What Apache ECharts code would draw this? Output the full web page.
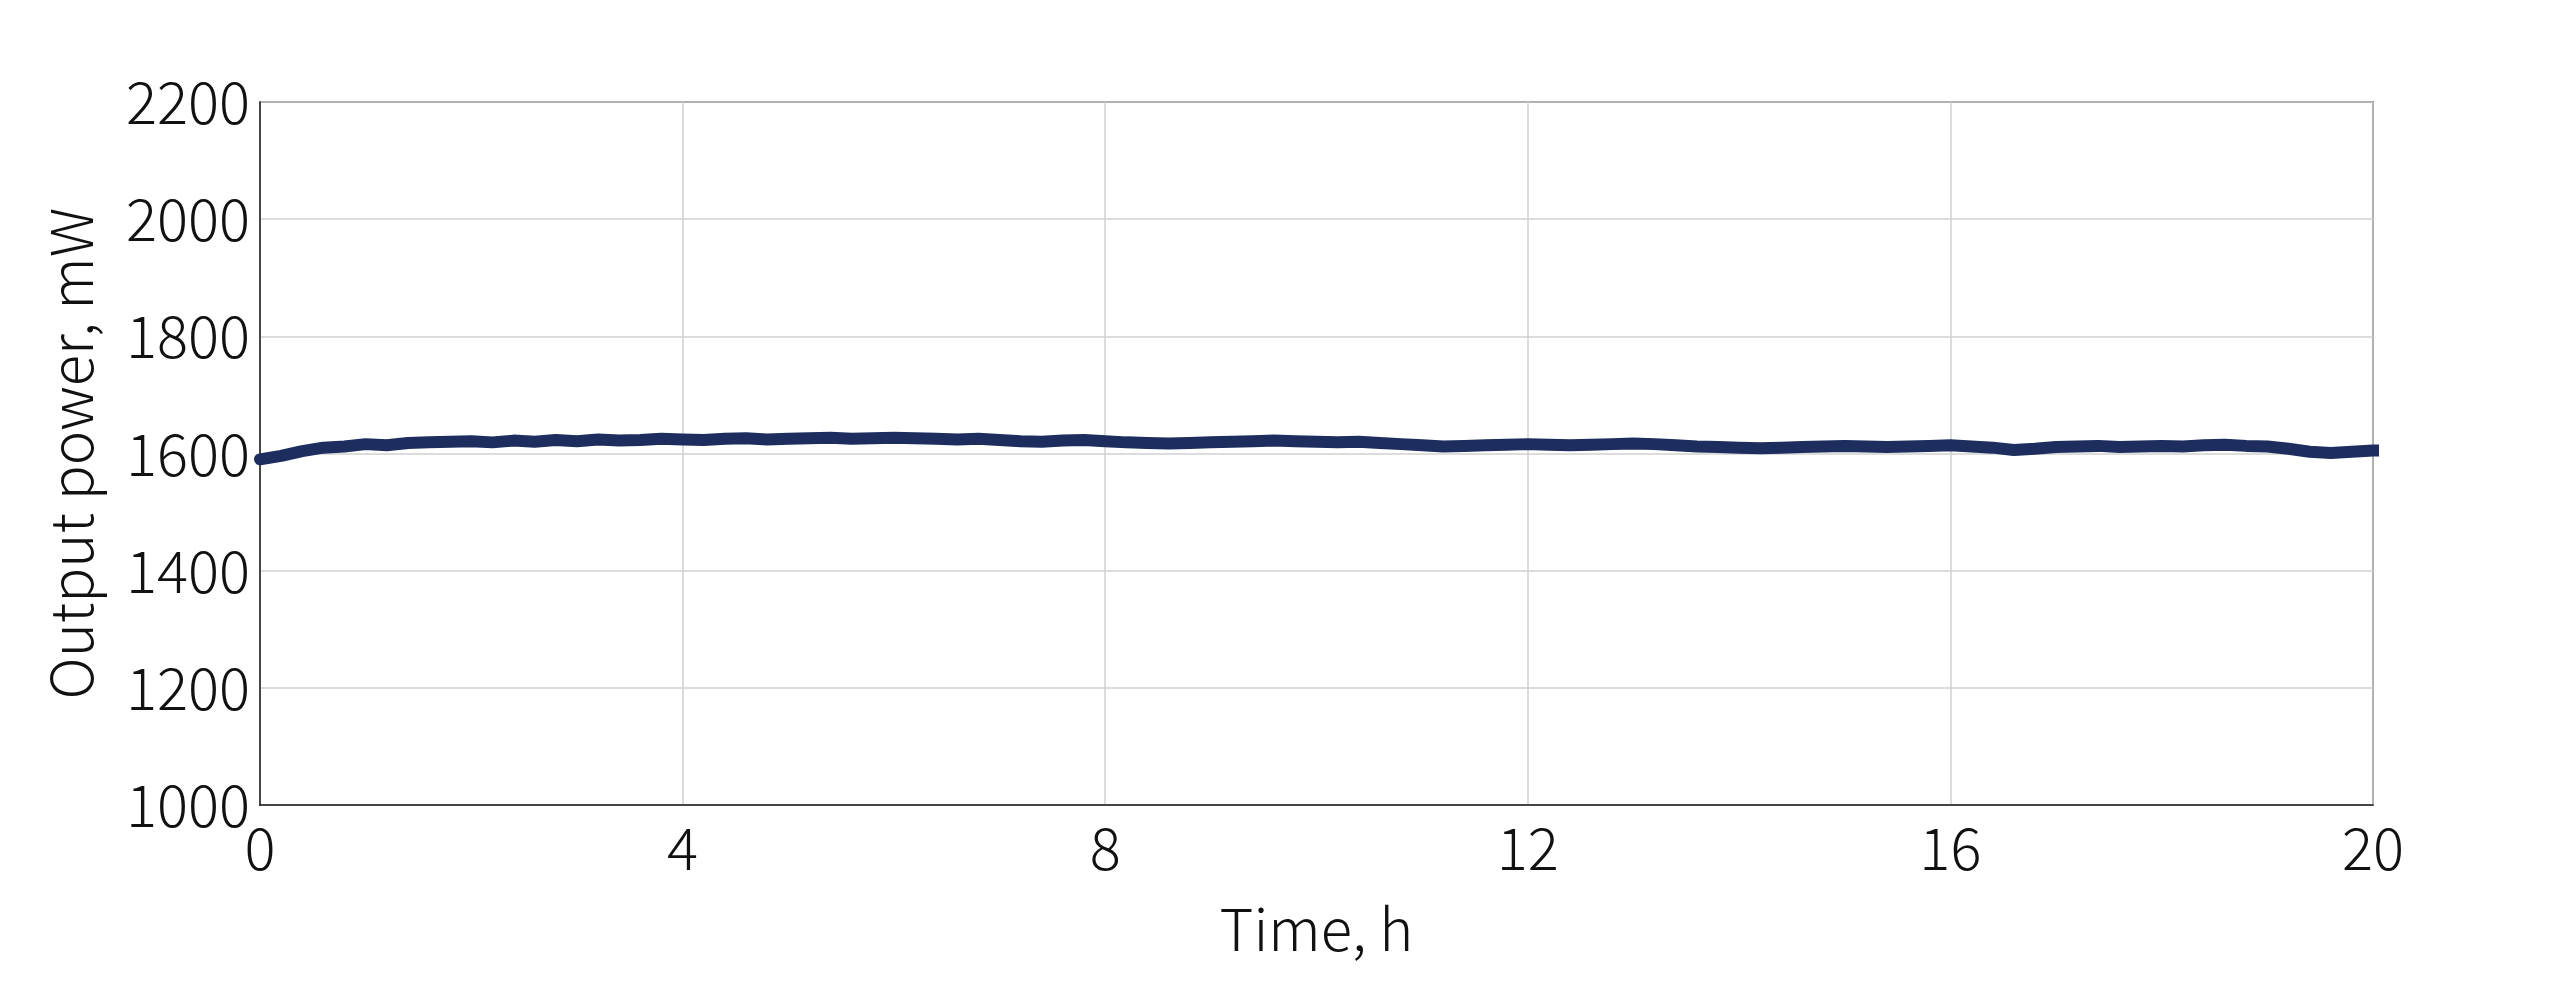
<!DOCTYPE html>
<html><head><meta charset="utf-8">
<script src="https://cdn.jsdelivr.net/npm/echarts@6/dist/echarts.min.js"></script>
<style>html,body{margin:0;padding:0;background:#fff}#c{width:2550px;height:990px}</style>
</head><body><div id="c"></div>
<script>
const timeStep = 0.2;
const powerValues = [
1590,1596,1604,1610,1612,1616,1614,1618,1619,1620,
1621,1619,1622,1620,1623,1621,1624,1622,1623,1625,
1624,1623,1625,1626,1624,1625,1626,1627,1625,1626,
1627,1626,1625,1624,1625,1623,1621,1620,1622,1623,
1621,1619,1618,1617,1618,1619,1620,1621,1622,1621,
1620,1619,1620,1618,1616,1614,1612,1613,1614,1615,
1616,1615,1614,1615,1616,1617,1616,1614,1612,1611,
1610,1609,1610,1611,1612,1613,1612,1611,1612,1613,
1614,1612,1610,1606,1608,1611,1612,1613,1611,1612,
1613,1612,1614,1615,1613,1612,1608,1603,1601,1603
];
const moreValues = [
1605,1606,1608,1607,1609,1608,1605,1606,1608,1610,
1609,1607,1602,1601,1603,1606,1608,1609,1607,1605,
1604,1605,1606,1607,1606,1605,1604,1600,1599,1601,
1603,1603,1602,1603,1604,1603,1604,1605,1603,1601,
1600,1601,1602,1603,1601,1599,1598,1600,1602,1603,
1605,1604,1605,1606,1605,1606,1607,1605,1602,1603,
1604
];
const xTicks = [0,4,8,12,16,20];
const yMin = 1000, yMax = 2200, yStep = 200;
const allValues = powerValues.concat(moreValues);
const data = allValues.map((v,i)=>[+(i*timeStep).toFixed(2), v]);
const font = '"Noto Sans CJK JP", "Noto Sans", sans-serif';
const chart = echarts.init(document.getElementById('c'));
chart.setOption({
  animation:false,
  grid:{left:260,right:177,top:102,bottom:185,show:true,borderColor:'#222',borderWidth:1.5},
  xAxis:{type:'value',min:0,max:20,interval:4,
    name:'Time, h',nameLocation:'middle',nameGap:95,
    nameTextStyle:{fontFamily:font,fontSize:58,fontWeight:300,color:'#111'},
    axisLine:{show:true,lineStyle:{color:'#222',width:1.5}},
    axisTick:{show:false},
    axisLabel:{fontFamily:font,fontSize:58,fontWeight:300,color:'#111',margin:14,formatter:v=>String(v)},
    splitLine:{show:true,lineStyle:{color:'#d0d0d0',width:1.5}}},
  yAxis:{type:'value',min:yMin,max:yMax,interval:yStep,
    name:'Output power, mW',nameLocation:'middle',nameGap:160,
    nameTextStyle:{fontFamily:font,fontSize:58,fontWeight:300,color:'#111'},
    axisLine:{show:true,lineStyle:{color:'#222',width:1.5}},
    axisTick:{show:false},
    axisLabel:{fontFamily:font,fontSize:58,fontWeight:300,color:'#111',margin:10,formatter:v=>String(v)},
    splitLine:{show:true,lineStyle:{color:'#d0d0d0',width:1.5}}},
  series:[{type:'line',data:data,showSymbol:false,
    lineStyle:{color:'#1c2d5e',width:12,join:'round',cap:'round'}}]
});
</script></body></html>
